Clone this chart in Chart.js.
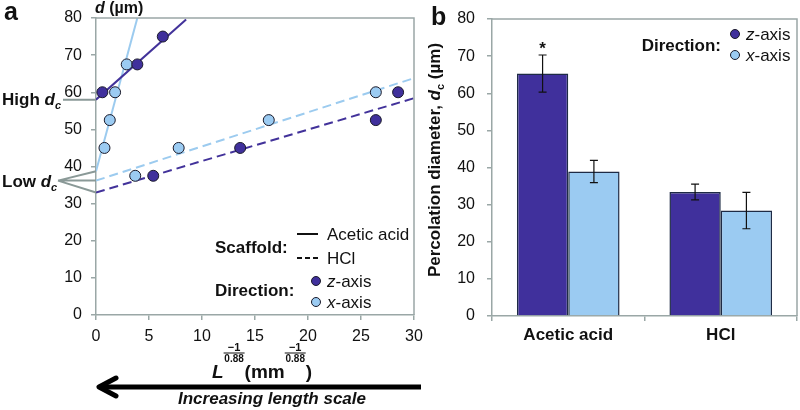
<!DOCTYPE html>
<html><head><meta charset="utf-8">
<script src="https://cdn.jsdelivr.net/npm/chart.js@4.4.0/dist/chart.umd.min.js"></script>
<style>
html,body{margin:0;padding:0;background:#fff;}
#wrap{position:relative;width:800px;height:410px;overflow:hidden;}
canvas{position:absolute;top:0;}
#ca{left:0;}
#cb{left:420px;}
</style></head><body>
<div id="wrap"><canvas id="ca" width="432" height="410"></canvas><canvas id="cb" width="380" height="410"></canvas></div>
<script>
// ---------- Panel a data ----------
const zAceticX = [0.6, 3.9, 6.3];
const zAceticY = [60, 67.5, 75];
const xAceticX = [0.8, 1.3, 1.8, 2.9];
const xAceticY = [45, 52.5, 60, 67.5];
const zHClX = [5.4, 13.6, 26.4, 28.5];
const zHClY = [37.5, 45, 52.5, 60];
const xHClX = [3.7, 7.8, 16.3, 26.4];
const xHClY = [37.5, 45, 52.5, 60];
// fitted lines (end points)
const zAceticFitX = [0, 8.5];  const zAceticFitY = [58, 79.6];
const xAceticFitX = [0, 3.9];  const xAceticFitY = [38.7, 80];
const zHClFitX = [0, 30];      const zHClFitY = [33, 58.4];
const xHClFitX = [0, 30];      const xHClFitY = [36.2, 63.8];
const xTicksA = [0, 5, 10, 15, 20, 25, 30];
const yTicks = [0, 10, 20, 30, 40, 50, 60, 70, 80];

// ---------- Panel b data ----------
const categories = ['Acetic acid', 'HCl'];
const zMean = [65.3, 33.4];
const zErr = [5.0, 2.1];
const xMean = [38.9, 28.4];
const xErr = [3.0, 4.9];

const FONT = "'Liberation Sans', Arial, sans-serif";
const AXIS = '#9aa7a6';
const DARK = '#40309c';
const LIGHT = '#9bcbf2';
const DARK_LINE = '#42329a';
const LIGHT_LINE = '#9ccbef';
const BAR_BORDER = '#1e2b45';
const TXT = '#111';
const ANNOT = '#8a9997';

const pts = (xs, ys) => xs.map((v, i) => ({x: v, y: ys[i]}));

function drawRuns(ctx, x, y, parts, align) {
  let w = 0;
  parts.forEach(p => { ctx.font = p.f; p.w = ctx.measureText(p.t).width; w += p.w; });
  let cx = align === 'center' ? x - w / 2 : align === 'right' ? x - w : x;
  ctx.textAlign = 'left'; ctx.textBaseline = 'alphabetic';
  parts.forEach(p => { ctx.font = p.f; ctx.fillText(p.t, cx, y + (p.dy || 0)); cx += p.w; });
  return w;
}
function frac(ctx, x, yLine, w) {
  ctx.save();
  ctx.strokeStyle = TXT; ctx.lineWidth = 1;
  ctx.beginPath(); ctx.moveTo(x, yLine); ctx.lineTo(x + w, yLine); ctx.stroke();
  ctx.font = 'bold 11px ' + FONT; ctx.textAlign = 'center';
  ctx.textBaseline = 'alphabetic';
  ctx.fillText('\u22121', x + w / 2, yLine - 2);
  ctx.font = 'bold 10px ' + FONT;
  ctx.fillText('0.88', x + w / 2, yLine + 9);
  ctx.restore();
}

const panelA = {
  id: 'panelA',
  afterDraw(chart) {
    const {ctx, chartArea: ca, scales: {x, y}} = chart;
    ctx.save();
    // frame top/right
    ctx.strokeStyle = AXIS; ctx.lineWidth = 1.5;
    ctx.beginPath(); ctx.moveTo(ca.left, ca.top); ctx.lineTo(ca.right, ca.top); ctx.lineTo(ca.right, ca.bottom); ctx.stroke();
    ctx.fillStyle = TXT;
    // panel letter
    ctx.font = 'bold 25px ' + FONT; ctx.textAlign = 'left'; ctx.textBaseline = 'alphabetic';
    ctx.fillText('a', 4, 20);
    // y title
    drawRuns(ctx, 95, 13, [{t: 'd', f: 'italic bold 16px ' + FONT}, {t: ' (\u00b5m)', f: 'bold 16px ' + FONT}], 'left');
    // High dc
    const yh = y.getPixelForValue(zAceticFitY[0]);
    drawRuns(ctx, 2, yh + 5, [{t: 'High ', f: 'bold 17px ' + FONT}, {t: 'd', f: 'italic bold 17px ' + FONT}, {t: 'c', f: 'italic bold 11px ' + FONT, dy: 4}], 'left');
    ctx.strokeStyle = ANNOT; ctx.lineWidth = 2;
    ctx.beginPath(); ctx.moveTo(63, yh); ctx.lineTo(ca.left, yh); ctx.stroke();
    // Low dc
    const ym = y.getPixelForValue(xHClFitY[0]);
    drawRuns(ctx, 2, ym + 6, [{t: 'Low ', f: 'bold 17px ' + FONT}, {t: 'd', f: 'italic bold 17px ' + FONT}, {t: 'c', f: 'italic bold 11px ' + FONT, dy: 4}], 'left');
    ctx.beginPath();
    [xAceticFitY[0], xHClFitY[0], zHClFitY[0]].forEach(v => {
      ctx.moveTo(58, ym); ctx.lineTo(ca.left, y.getPixelForValue(v));
    });
    ctx.stroke();
    // x axis title
    ctx.fillStyle = TXT;
    let cx = 212;
    ctx.font = 'italic bold 19px ' + FONT; ctx.textAlign = 'left'; ctx.textBaseline = 'alphabetic';
    ctx.fillText('L', cx, 378); cx += ctx.measureText('L').width;
    frac(ctx, cx, 353, 21); cx += 21;
    ctx.font = 'bold 19px ' + FONT;
    ctx.fillText('(mm', cx, 378); cx += ctx.measureText('(mm').width;
    frac(ctx, cx, 353, 21); cx += 21;
    ctx.font = 'bold 19px ' + FONT;
    ctx.fillText(')', cx, 378);
    // arrow
    ctx.strokeStyle = '#000'; ctx.lineWidth = 5; ctx.lineCap = 'butt';
    ctx.beginPath(); ctx.moveTo(100, 387); ctx.lineTo(421, 387); ctx.stroke();
    ctx.lineCap = 'round'; ctx.lineJoin = 'round';
    ctx.beginPath(); ctx.moveTo(116, 378); ctx.lineTo(99, 387); ctx.lineTo(116, 396); ctx.stroke();
    ctx.fillStyle = TXT;
    ctx.font = 'italic bold 17px ' + FONT; ctx.textAlign = 'center';
    ctx.fillText('Increasing length scale', 272, 404);
    // legend
    ctx.textAlign = 'left';
    ctx.font = 'bold 17px ' + FONT;
    ctx.fillText('Scaffold:', 215, 253);
    ctx.fillText('Direction:', 215, 296);
    ctx.strokeStyle = '#111'; ctx.lineWidth = 2; ctx.lineCap = 'butt';
    ctx.beginPath(); ctx.moveTo(297, 234); ctx.lineTo(318, 234); ctx.stroke();
    ctx.setLineDash([5, 3]);
    ctx.beginPath(); ctx.moveTo(297, 258); ctx.lineTo(320, 258); ctx.stroke();
    ctx.setLineDash([]);
    ctx.font = '17px ' + FONT;
    ctx.fillText('Acetic acid', 327, 240);
    ctx.fillText('HCl', 327, 264);
    [[281, DARK, 'z'], [302, LIGHT, 'x']].forEach(([yy, col, l]) => {
      ctx.beginPath(); ctx.arc(316, yy, 4.5, 0, Math.PI * 2);
      ctx.fillStyle = col; ctx.fill(); ctx.strokeStyle = '#1a1a2a'; ctx.lineWidth = 1; ctx.stroke();
      ctx.fillStyle = TXT;
      drawRuns(ctx, 327, yy + 6, [{t: l, f: 'italic 17px ' + FONT}, {t: '-axis', f: '17px ' + FONT}], 'left');
    });
    ctx.restore();
  }
};

const tickFont = {family: FONT, size: 16};
new Chart(document.getElementById('ca'), {
  type: 'scatter',
  data: {
    datasets: [
      {data: pts(zAceticX, zAceticY), backgroundColor: DARK, borderColor: '#1a1a2a', borderWidth: 1, pointRadius: 5.5, order: 0},
      {data: pts(xAceticX, xAceticY), backgroundColor: LIGHT, borderColor: '#1a1a2a', borderWidth: 1, pointRadius: 5.5, order: 0},
      {data: pts(zHClX, zHClY), backgroundColor: DARK, borderColor: '#1a1a2a', borderWidth: 1, pointRadius: 5.5, order: 0},
      {data: pts(xHClX, xHClY), backgroundColor: LIGHT, borderColor: '#1a1a2a', borderWidth: 1, pointRadius: 5.5, order: 0},
      {data: pts(zAceticFitX, zAceticFitY), showLine: true, borderColor: DARK_LINE, borderWidth: 2, pointRadius: 0, order: 1},
      {data: pts(xAceticFitX, xAceticFitY), showLine: true, borderColor: LIGHT_LINE, borderWidth: 2, pointRadius: 0, order: 1},
      {data: pts(zHClFitX, zHClFitY), showLine: true, borderColor: DARK_LINE, borderWidth: 2, borderDash: [9, 5], pointRadius: 0, order: 1},
      {data: pts(xHClFitX, xHClFitY), showLine: true, borderColor: LIGHT_LINE, borderWidth: 2, borderDash: [9, 5], pointRadius: 0, order: 1}
    ]
  },
  options: {
    responsive: false, animation: false, devicePixelRatio: 1,
    layout: {padding: {top: 18, right: 18, left: 0, bottom: 0}},
    plugins: {legend: {display: false}, tooltip: {enabled: false}},
    scales: {
      x: {
        type: 'linear', min: 0, max: 30,
        afterBuildTicks: s => { s.ticks = xTicksA.map(v => ({value: v})); },
        afterFit: s => { s.height = 95; s.paddingLeft = 0; s.paddingRight = 0; },
        ticks: {font: tickFont, color: TXT, padding: 7, maxRotation: 0},
        grid: {drawOnChartArea: false, tickLength: 5, color: AXIS, lineWidth: 1.5},
        border: {color: AXIS, width: 1.5}
      },
      y: {
        type: 'linear', min: 0, max: 80,
        afterBuildTicks: s => { s.ticks = yTicks.map(v => ({value: v})); },
        afterFit: s => { s.width = 96; s.paddingTop = 0; s.paddingBottom = 0; },
        ticks: {font: tickFont, color: TXT, padding: 9},
        grid: {drawOnChartArea: false, tickLength: 5, color: AXIS, lineWidth: 1.5},
        border: {color: AXIS, width: 1.5}
      }
    }
  },
  plugins: [panelA]
});

// ---------- Panel b ----------
const errData = [zErr, xErr];
const meanData = [zMean, xMean];
const panelB = {
  id: 'panelB',
  afterDatasetsDraw(chart) {
    const {ctx, scales: {y}} = chart;
    ctx.save();
    ctx.strokeStyle = '#111'; ctx.lineWidth = 1.2;
    for (let d = 0; d < 2; d++) {
      const meta = chart.getDatasetMeta(d);
      meta.data.forEach((bar, i) => {
        const t = y.getPixelForValue(meanData[d][i] + errData[d][i]);
        const b = y.getPixelForValue(meanData[d][i] - errData[d][i]);
        ctx.beginPath();
        ctx.moveTo(bar.x, t); ctx.lineTo(bar.x, b);
        ctx.moveTo(bar.x - 4, t); ctx.lineTo(bar.x + 4, t);
        ctx.moveTo(bar.x - 4, b); ctx.lineTo(bar.x + 4, b);
        ctx.stroke();
      });
    }
    // significance star
    const b0 = chart.getDatasetMeta(0).data[0];
    ctx.fillStyle = TXT; ctx.font = 'bold 17px ' + FONT; ctx.textAlign = 'center'; ctx.textBaseline = 'alphabetic';
    ctx.fillText('*', b0.x, y.getPixelForValue(zMean[0] + zErr[0]) - 1);
    ctx.restore();
  },
  afterDraw(chart) {
    const {ctx, chartArea: ca} = chart;
    ctx.save();
    ctx.strokeStyle = AXIS; ctx.lineWidth = 1.5;
    ctx.beginPath(); ctx.moveTo(ca.left, ca.top); ctx.lineTo(ca.right, ca.top); ctx.lineTo(ca.right, ca.bottom); ctx.stroke();
    ctx.fillStyle = TXT;
    ctx.font = 'bold 25px ' + FONT; ctx.textAlign = 'left'; ctx.textBaseline = 'alphabetic';
    ctx.fillText('b', 11, 25);
    // y title rotated
    ctx.save();
    ctx.translate(20, 160); ctx.rotate(-Math.PI / 2);
    drawRuns(ctx, 0, 0, [
      {t: 'Percolation diameter, ', f: 'bold 17px ' + FONT},
      {t: 'd', f: 'italic bold 17px ' + FONT},
      {t: 'c', f: 'bold 11px ' + FONT, dy: 4},
      {t: ' (\u00b5m)', f: 'bold 17px ' + FONT}
    ], 'center');
    ctx.restore();
    // legend
    ctx.font = 'bold 17px ' + FONT; ctx.textAlign = 'right';
    ctx.fillText('Direction:', 301, 51);
    [[34, DARK, 'z'], [55, LIGHT, 'x']].forEach(([yy, col, l]) => {
      ctx.beginPath(); ctx.arc(315, yy, 4.5, 0, Math.PI * 2);
      ctx.fillStyle = col; ctx.fill(); ctx.strokeStyle = '#1a1a2a'; ctx.lineWidth = 1; ctx.stroke();
      ctx.fillStyle = TXT;
      drawRuns(ctx, 326, yy + 6, [{t: l, f: 'italic 17px ' + FONT}, {t: '-axis', f: '17px ' + FONT}], 'left');
    });
    ctx.restore();
  }
};

new Chart(document.getElementById('cb'), {
  type: 'bar',
  data: {
    labels: categories,
    datasets: [
      {data: zMean, backgroundColor: DARK, borderColor: BAR_BORDER, borderWidth: 1.5, categoryPercentage: 0.673, barPercentage: 1.0},
      {data: xMean, backgroundColor: LIGHT, borderColor: BAR_BORDER, borderWidth: 1.5, categoryPercentage: 0.673, barPercentage: 1.0}
    ]
  },
  options: {
    responsive: false, animation: false, devicePixelRatio: 1,
    layout: {padding: {top: 19, right: 3, left: 0, bottom: 0}},
    plugins: {legend: {display: false}, tooltip: {enabled: false}},
    scales: {
      x: {
        afterFit: s => { s.height = 94; s.paddingLeft = 0; s.paddingRight = 0; },
        ticks: {font: {family: FONT, size: 17, weight: 'bold'}, color: TXT, padding: 4, maxRotation: 0},
        grid: {drawOnChartArea: false, tickLength: 5, color: AXIS, lineWidth: 1.5},
        border: {color: AXIS, width: 1.5}
      },
      y: {
        min: 0, max: 80,
        afterBuildTicks: s => { s.ticks = yTicks.map(v => ({value: v})); },
        afterFit: s => { s.width = 72; s.paddingTop = 0; s.paddingBottom = 0; },
        ticks: {font: tickFont, color: TXT, padding: 12},
        grid: {drawOnChartArea: false, tickLength: 5, color: AXIS, lineWidth: 1.5},
        border: {color: AXIS, width: 1.5}
      }
    }
  },
  plugins: [panelB]
});
</script>
</body></html>
